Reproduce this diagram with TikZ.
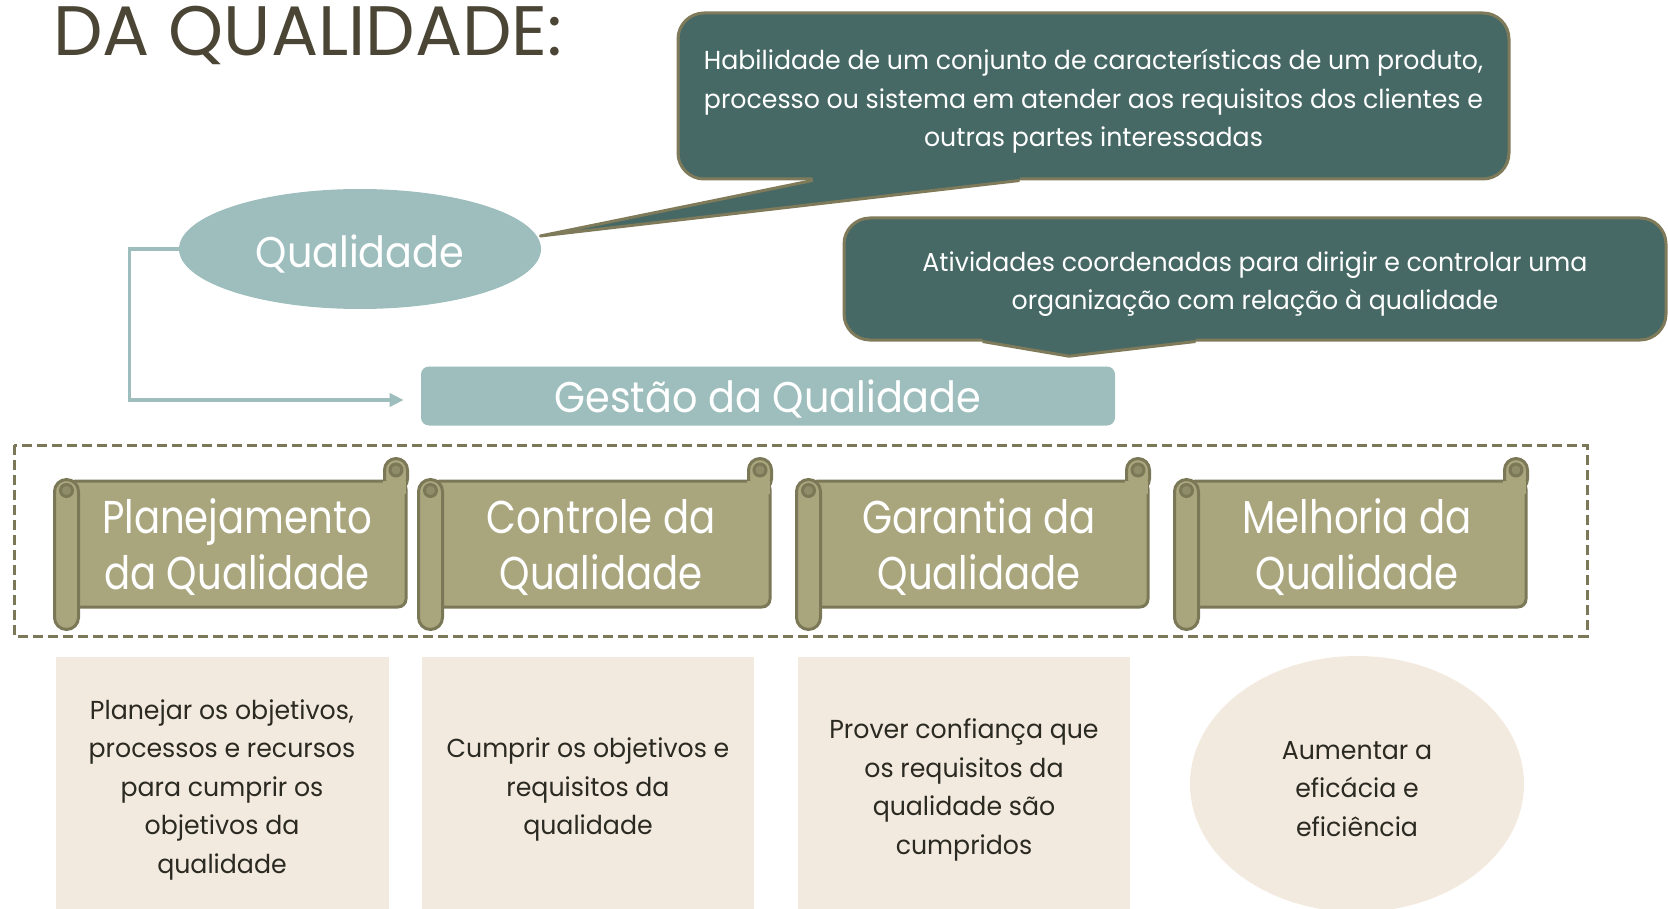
\documentclass[tikz,border=0pt]{standalone}
\usepackage{fontspec}
\setmainfont{Poppins}
\newfontfamily\narrowfont[FakeStretch=0.97]{Poppins}
\newfontfamily\scrollfont[FakeStretch=0.84]{Poppins}
\newfontfamily\tealfont[FakeStretch=0.925]{Poppins}
\usetikzlibrary{shapes.geometric, arrows.meta, positioning, calc}

\definecolor{titlebrown}{HTML}{4A4535}
\definecolor{calloutfill}{HTML}{466966}
\definecolor{calloutline}{HTML}{7F7B5A}
\definecolor{lightteal}{HTML}{9DBEBD}
\definecolor{scrollfill}{HTML}{A9A67E}
\definecolor{scrollline}{HTML}{7B7857}
\definecolor{scrolldark}{HTML}{8F8C69}
\definecolor{beige}{HTML}{F3EADF}
\definecolor{bodytext}{HTML}{2B2A22}

% taller first line, so the text sits a bit lower in its box
\newcommand{\sinktext}[1]{\rule{0pt}{#1}}

% rolled ends of a scroll, drawn round its body node
\newcommand{\rolls}[1]{%
  \draw[scrollpart, rounded corners=11.5pt] ($(#1.north east)+(-23,-21)$) rectangle ($(#1.north east)+(0,11)$);
  \fill[scrollfill] ($(#1.north east)+(-24.5,1.6)$) rectangle ($(#1.north east)+(-1.6,14)$);
  \draw[scrollpart, fill=scrolldark] ($(#1.north east)+(-11.5,-9.5)$) circle[radius=6];
  \draw[scrollpart, rounded corners=12pt] ($(#1.north west)+(-12,0)$) rectangle ($(#1.south west)+(12,21)$);
  \draw[scrollpart, fill=scrolldark] ($(#1.north west)+(0,11)$) circle[radius=6];
}

\begin{document}
\begin{tikzpicture}[
            x = 1pt, y = -1pt, % pixel grid, y going down
            > = {Triangle[length=14pt, width=13pt]},
            semithick
        ]

        \tikzset{
            drop/.style = {execute at begin node = {\rule{0pt}{#1}}}, % pushes one-line text down a bit
            callout/.style = {
                draw = calloutline, line width = 3pt, fill = calloutfill,
                rounded corners = 26pt, inner sep = 0pt, text = white,
                align = center, font = \narrowfont\fontsize{26}{38.5}\selectfont
            },
            tealbox/.style = {
                fill = lightteal, inner sep = 0pt, text = white,
                font = \tealfont\fontsize{43}{50}\selectfont
            },
            scrollbody/.style = {
                draw = scrollline, line width = 3pt, fill = scrollfill,
                rounded corners = 8pt, inner sep = 0pt,
                minimum width = 338pt, minimum height = 126pt,
                text = white, align = center,
                font = \scrollfont\fontsize{46}{56}\selectfont
            },
            scrollpart/.style = {
                draw = scrollline, line width = 3pt, fill = scrollfill
            },
            notebox/.style = {
                fill = beige, inner sep = 0pt, text = bodytext,
                align = center,
                font = \narrowfont\fontsize{26}{38.5}\selectfont
            },
            link/.style = {
                draw = lightteal, line width = 3.5pt, ->, shorten > = 17pt
            }
        }

        \useasboundingbox (0,0) rectangle (1668,909);

        % title
        \node[anchor = base west, text = titlebrown, inner sep = 0pt,
              font = \fontsize{70}{72}\selectfont] (title) at (53,56) {DA QUALIDADE:};

        % top part
        \node[tealbox, ellipse, drop = 43pt, minimum width = 362pt, minimum height = 120pt] (qual) at (360,249) {Qualidade};
        \node[tealbox, drop = 38pt, rounded corners = 8pt, minimum width = 694pt, minimum height = 59pt] (gestao) at (768,396) {Gestão da Qualidade};

        \node[callout, minimum width = 831pt, minimum height = 166pt] (def1) at (1093.5,96)
            {\sinktext{31pt}Habilidade de um conjunto de características de um produto,\\
             processo ou sistema em atender aos requisitos dos clientes e\\
             outras partes interessadas};
        \node[callout, minimum width = 822pt, minimum height = 122pt] (def2) at (1255,279)
            {\sinktext{30pt}Atividades coordenadas para dirigir e controlar uma\\
             organização com relação à qualidade};

        % callout tails
        \coordinate (tip1) at ($(qual.east)+(-1,-13)$);
        \coordinate (a1) at ($(def1.south west)+(136,0)$);
        \coordinate (b1) at ($(def1.south west)+(343,0)$);
        \fill[calloutfill] (tip1) -- (a1) -- ($(a1)+(0,-9)$) -- ($(b1)+(0,-9)$) -- (b1) -- cycle;
        \draw[calloutline, line width = 3pt, line join = round] (a1) -- (tip1) -- (b1);

        \coordinate (tip2) at ($(gestao.north)+(301,-10)$);
        \coordinate (a2) at ($(def2.south west)+(140,0)$);
        \coordinate (b2) at ($(def2.south west)+(353,0)$);
        \fill[calloutfill] (tip2) -- (a2) -- ($(a2)+(0,-9)$) -- ($(b2)+(0,-9)$) -- (b2) -- cycle;
        \draw[calloutline, line width = 3pt, line join = round] (a2) -- (tip2) -- (b2);

        \draw[link] (qual.west) -- ++(-49,0) |- ($(gestao.west)+(0,4)$);

        % the four processes
        \draw[scrollline, line width = 3pt, dash pattern = on 10pt off 5pt] (14,445) rectangle (1587,636);

        \node[scrollbody] (plan) at (237,544) {\sinktext{41pt}Planejamento\\da Qualidade};
        \node[scrollbody] (ctrl) at (601,544) {\sinktext{41pt}Controle da\\Qualidade};
        \node[scrollbody] (garant) at (979,544) {\sinktext{41pt}Garantia da\\Qualidade};
        \node[scrollbody] (melhor) at (1357,544) {\sinktext{41pt}Melhoria da\\Qualidade};
        \rolls{plan}
        \rolls{ctrl}
        \rolls{garant}
        \rolls{melhor}

        % what each one does
        \node[notebox, minimum width = 333pt, minimum height = 262pt] (planTxt) at (222,788)
            {\sinktext{23.5pt}Planejar os objetivos,\\processos e recursos\\para cumprir os\\objetivos da\\qualidade};
        \node[notebox, minimum width = 332pt, minimum height = 262pt] (ctrlTxt) at (588,788)
            {\sinktext{23.5pt}Cumprir os objetivos e\\requisitos da\\qualidade};
        \node[notebox, minimum width = 332pt, minimum height = 262pt] (garantTxt) at (964,788)
            {\sinktext{23.5pt}Prover confiança que\\os requisitos da\\qualidade são\\cumpridos};
        \node[notebox, ellipse, minimum width = 334pt, minimum height = 256pt] (melhorTxt) at (1357,784)
            {\sinktext{28pt}Aumentar a\\eficácia e\\eficiência};
    \end{tikzpicture}
\end{document}
